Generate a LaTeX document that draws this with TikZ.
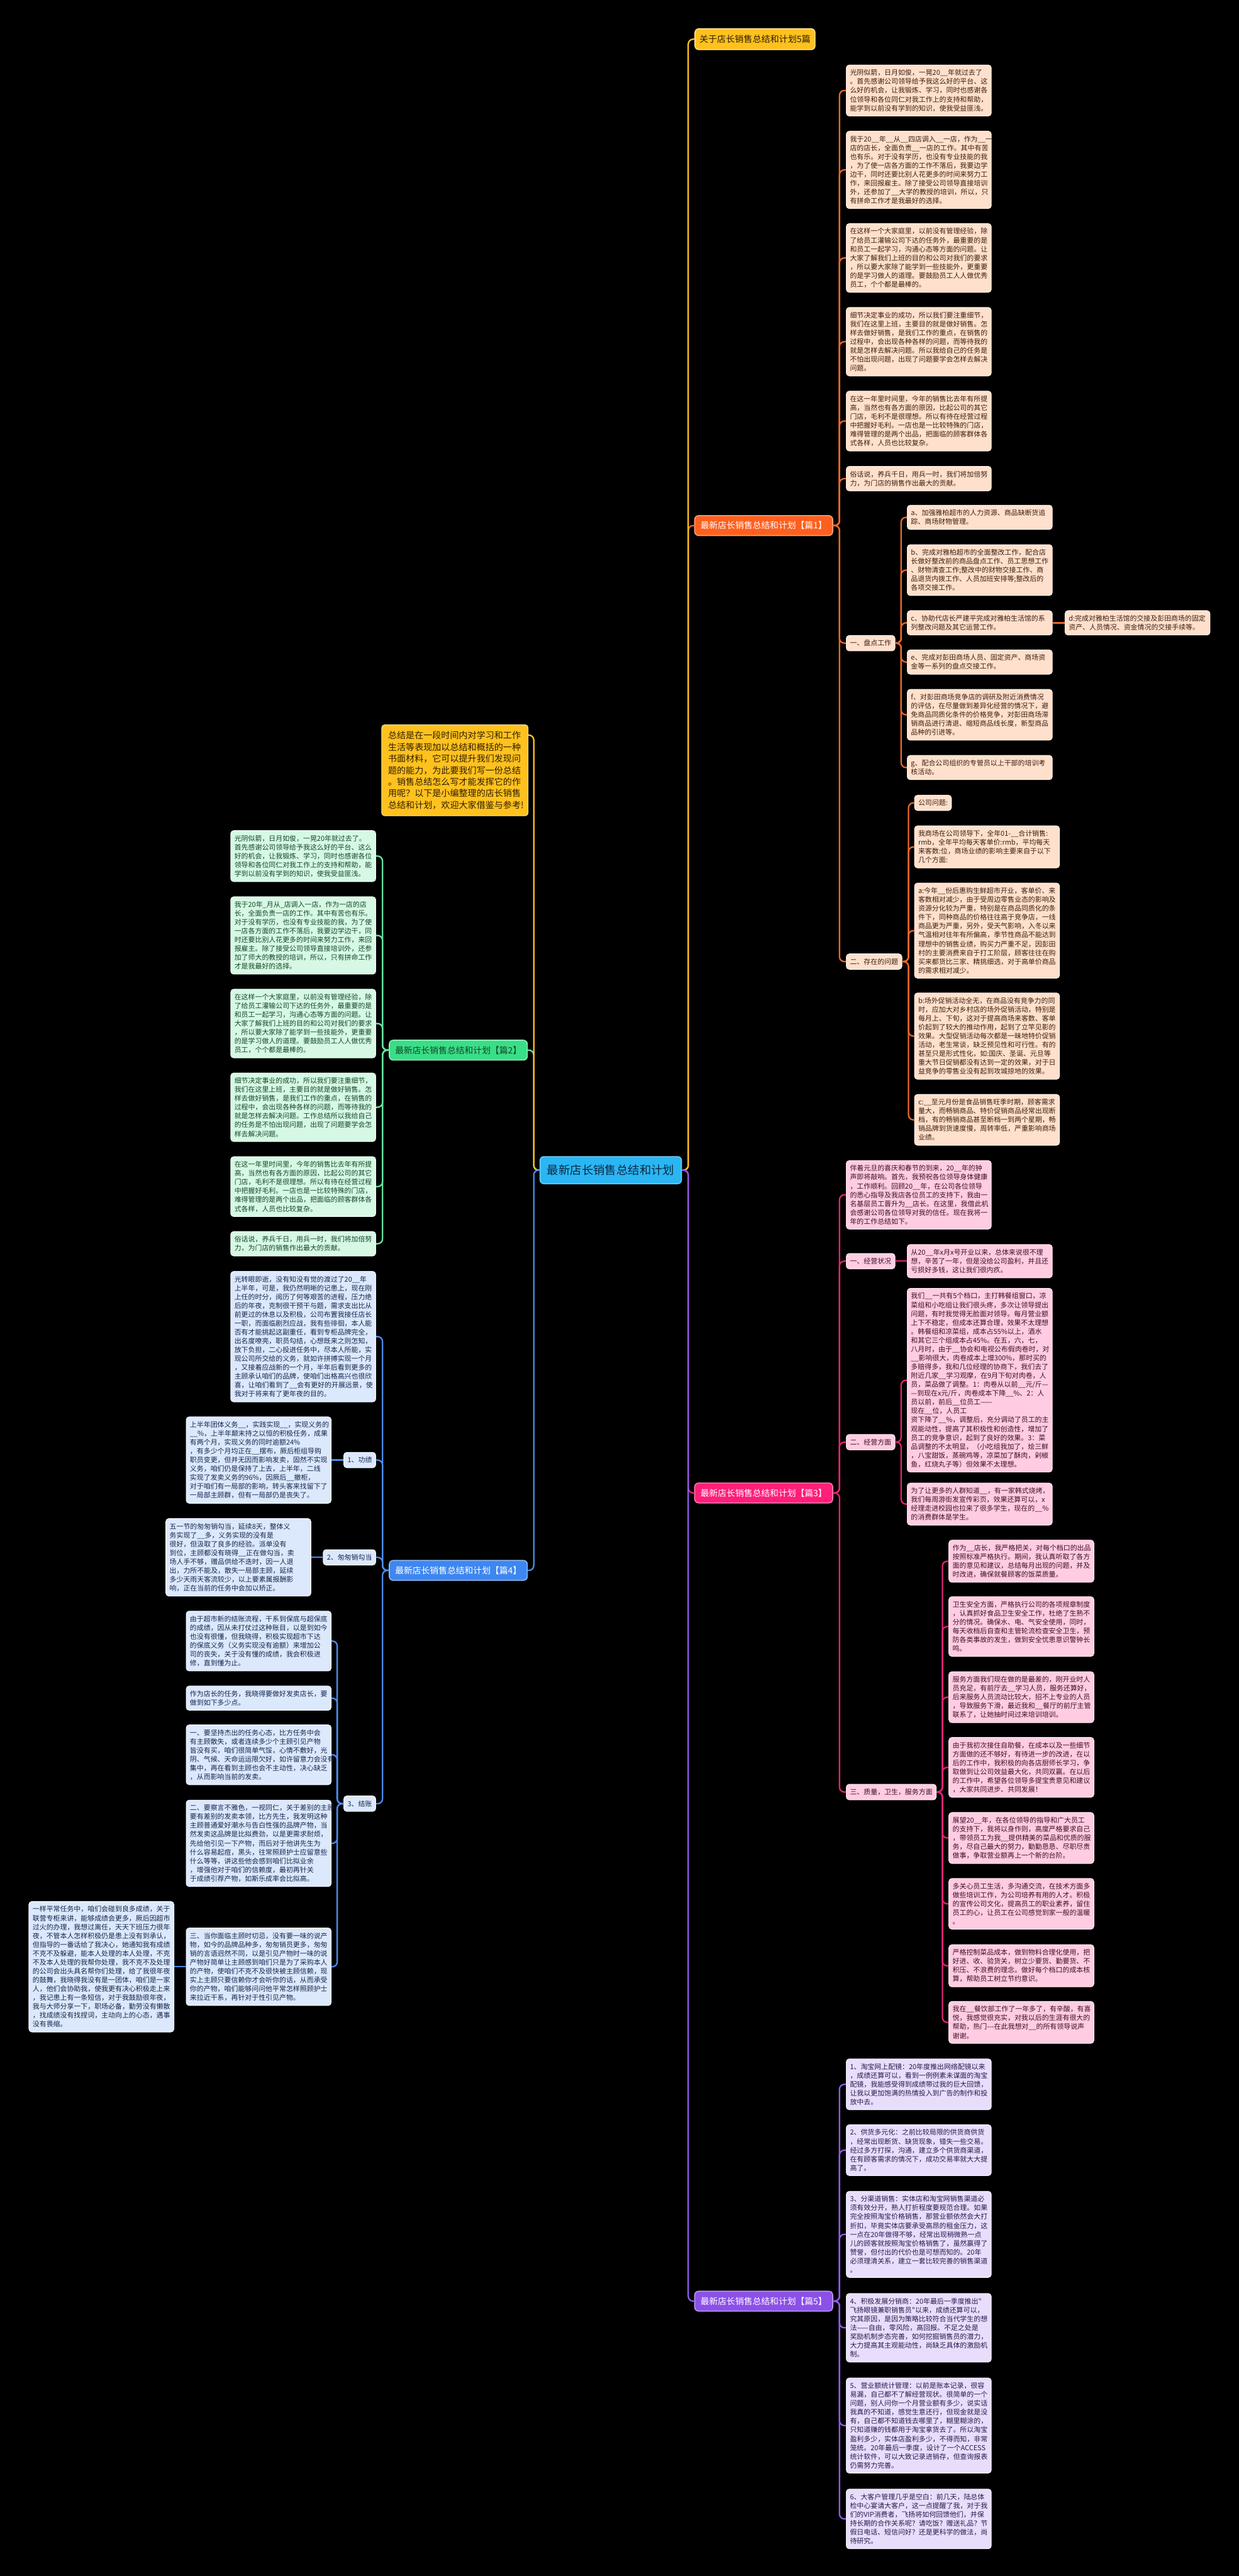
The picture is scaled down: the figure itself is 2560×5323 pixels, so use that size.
\documentclass[tikz,border=0pt]{standalone}
\usepackage{fontspec}
\newfontfamily\cjk{Noto Sans CJK SC}
\usetikzlibrary{calc}
\definecolor{ttfill}{RGB}{255,193,30}
\definecolor{ttdraw}{RGB}{255,226,140}
\definecolor{tttext}{RGB}{45,30,0}
\definecolor{orfill}{RGB}{255,95,30}
\definecolor{orlt}{RGB}{255,224,204}
\definecolor{orln}{RGB}{232,103,42}
\definecolor{ortx}{RGB}{60,30,15}
\definecolor{grfill}{RGB}{58,222,135}
\definecolor{grlt}{RGB}{214,248,228}
\definecolor{grln}{RGB}{100,226,160}
\definecolor{grtx}{RGB}{20,70,40}
\definecolor{pkfill}{RGB}{255,30,122}
\definecolor{pklt}{RGB}{255,204,226}
\definecolor{pkln}{RGB}{226,36,112}
\definecolor{pktx}{RGB}{60,15,35}
\definecolor{blfill}{RGB}{62,135,240}
\definecolor{bllt}{RGB}{220,232,252}
\definecolor{blln}{RGB}{76,139,234}
\definecolor{bltx}{RGB}{20,38,75}
\definecolor{pufill}{RGB}{139,80,232}
\definecolor{pult}{RGB}{232,222,252}
\definecolor{puln}{RGB}{143,91,232}
\definecolor{putx}{RGB}{40,25,75}
\definecolor{cenfill}{RGB}{42,182,244}
\definecolor{centx}{RGB}{12,40,64}
\tikzset{
  mm/.style={
    draw, line width=0.5pt, rounded corners=0.6mm, align=left,
    font=\cjk\fontsize{4.04pt}{5.2pt}\selectfont,
    inner xsep=0.075cm, inner ysep=2.6pt
  },
  blk/.style={mm, text width=2.84cm},
  orblk/.style={blk, fill=orlt, draw=white!45!orlt, text=ortx, anchor=west},
  orlab/.style={mm, fill=orlt, draw=white!45!orlt, text=ortx, anchor=west},
  grblk/.style={blk, fill=grlt, draw=white!45!grlt, text=grtx, anchor=east},
  pkblk/.style={blk, fill=pklt, draw=white!45!pklt, text=pktx, anchor=west},
  pklab/.style={mm, fill=pklt, draw=white!45!pklt, text=pktx, anchor=west},
  blblk/.style={blk, fill=bllt, draw=white!45!bllt, text=bltx, anchor=east},
  bllab/.style={mm, fill=bllt, draw=white!45!bllt, text=bltx, anchor=east},
  publk/.style={blk, fill=pult, draw=white!45!pult, text=putx, anchor=west},
  head/.style={
    draw, line width=0.6pt, rounded corners=0.8mm, align=center,
    font=\cjk\fontsize{5.1pt}{6pt}\selectfont,
    minimum width=2.85cm, minimum height=0.41cm, inner sep=0pt
  },
  link/.style={line width=0.85pt, rounded corners=1mm}
}
\begin{document}
\begin{tikzpicture}[x=0.01cm,y=-0.01cm]
  \useasboundingbox (0,0) rectangle (2560,5323);
  \fill[black] (0,0) rectangle (2560,5323);

  % centre and first level
  \node[draw=cenfill!70!white, fill=cenfill, text=centx, rounded corners=0.8mm,
        font=\cjk\fontsize{6.8pt}{8pt}\selectfont, minimum width=2.92cm,
        minimum height=0.56cm, inner sep=0pt, line width=0.6pt] (cen) at (1262,2418)
        {最新店长销售总结和计划};
  \node[head, fill=ttfill, draw=ttdraw, text=tttext, minimum width=2.48cm,
        minimum height=0.43cm, font=\cjk\fontsize{5.2pt}{6pt}\selectfont] (title) at (1560,81)
        {关于店长销售总结和计划5篇};
  \node[mm, anchor=north west, fill=ttfill, draw=ttdraw, text=tttext, text width=2.76cm,
        inner xsep=0.13cm, inner ysep=0.13cm,
        font=\cjk\fontsize{5.2pt}{6.83pt}\selectfont] (summ) at (788,1497)
        {总结是在一段时间内对学习和工作\\生活等表现加以总结和概括的一种\\书面材料，它可以提升我们发现问\\题的能力，为此要我们写一份总结\\。销售总结怎么写才能发挥它的作\\用呢？以下是小编整理的店长销售\\总结和计划，欢迎大家借鉴与参考!};
  \node[head, fill=orfill, draw=orfill!60!white, text=white] (p1) at (1578,1086) {最新店长销售总结和计划【篇1】};
  \node[head, fill=grfill, draw=grfill!60!white, text=grtx] (p2) at (947,2170) {最新店长销售总结和计划【篇2】};
  \node[head, fill=pkfill, draw=pkfill!60!white, text=white] (p3) at (1578,3085) {最新店长销售总结和计划【篇3】};
  \node[head, fill=blfill, draw=blfill!60!white, text=white] (p4) at (947,3245) {最新店长销售总结和计划【篇4】};
  \node[head, fill=pufill, draw=pufill!60!white, text=white] (p5) at (1578,4755) {最新店长销售总结和计划【篇5】};

  % part 1
  \node[orblk] (s1b1) at (1748,187) {光阴似箭，日月如俊，一晃20\_\_年就过去了\\。首先感谢公司领导给予我这么好的平台、这\\么好的机会，让我锻炼、学习，同时也感谢各\\位领导和各位同仁对我工作上的支持和帮助，\\能学到以前没有学到的知识，使我受益匪浅。};
  \node[orblk] (s1b2) at (1748,351) {我于20\_\_年\_\_从\_\_四店调入\_\_一店，作为\_\_一\\店的店长，全面负责\_\_一店的工作。其中有苦\\也有乐。对于没有学历，也没有专业技能的我\\，为了使一店各方面的工作不落后，我要边学\\边干，同时还要比别人花更多的时间来努力工\\作，来回报雇主。除了接受公司领导直接培训\\外，还参加了\_\_大学的教授的培训，所以，只\\有拼命工作才是我最好的选择。};
  \node[orblk] (s1b3) at (1748,533) {在这样一个大家庭里，以前没有管理经验，除\\了给员工灌输公司下达的任务外，最重要的是\\和员工一起学习，沟通心态等方面的问题。让\\大家了解我们上班的目的和公司对我们的要求\\，所以要大家除了能学到一些技能外，更重要\\的是学习做人的道理。要鼓励员工人人做优秀\\员工，个个都是最棒的。};
  \node[orblk] (s1b4) at (1748,706) {细节决定事业的成功，所以我们要注重细节，\\我们在这里上班，主要目的就是做好销售。怎\\样去做好销售，是我们工作的重点，在销售的\\过程中，会出现各种各样的问题，而等待我的\\就是怎样去解决问题。所以我给自己的任务是\\不怕出现问题，出现了问题要学会怎样去解决\\问题。};
  \node[orblk] (s1b5) at (1748,870) {在这一年里时间里，今年的销售比去年有所提\\高，当然也有各方面的原因，比起公司的其它\\门店，毛利不是很理想。所以有待在经营过程\\中把握好毛利。一店也是一比较特殊的门店，\\难得管理的是两个出品，把面临的顾客群体各\\式各样，人员也比较复杂。};
  \node[orblk] (s1b6) at (1748,989) {俗话说，养兵千日，用兵一时，我们将加倍努\\力，为门店的销售作出最大的贡献。};
  \node[orlab] (s1pd) at (1748,1329) {一、盘点工作};
  \node[orblk] (s1a) at (1874,1069) {a、加强雅柏超市的人力资源、商品缺断货追\\踪、商场财物管理。};
  \node[orblk] (s1b) at (1874,1178) {b、完成对雅柏超市的全面整改工作，配合店\\长做好整改前的商品盘点工作、员工思想工作\\、财物清查工作;整改中的财物交接工作、商\\品退货内拨工作、人员加班安排等;整改后的\\各项交接工作。};
  \node[orblk] (s1c) at (1874,1287) {c、协助代店长严建平完成对雅柏生活馆的系\\列整改问题及其它运营工作。};
  \node[orblk] (s1d) at (2200,1287) {d:完成对雅柏生活馆的交接及彭田商场的固定\\资产、人员情况、资金情况的交接手续等。};
  \node[orblk] (s1e) at (1874,1368) {e、完成对彭田商场人员、固定资产、商场资\\金等一系列的盘点交接工作。};
  \node[orblk] (s1f) at (1874,1477) {f、对彭田商场竞争店的调研及附近消费情况\\的评估，在尽量做到差异化经营的情况下，避\\免商品同质化条件的价格竞争，对彭田商场滞\\销商品进行清退、缩短商品线长度，新型商品\\品种的引进等。};
  \node[orblk] (s1g) at (1874,1586) {g、配合公司组织的专管员以上干部的培训考\\核活动。};
  \node[orlab] (s1wt) at (1748,1987) {二、存在的问题};
  \node[orlab] (s1gs) at (1889,1659) {公司问题:};
  \node[orblk] (s1q1) at (1889,1750) {我商场在公司领导下，全年01-\_\_合计销售:\\rmb，全年平均每天客单价:rmb，平均每天\\来客数:位，商场业绩的影响主要来自于以下\\几个方面:};
  \node[orblk] (s1qa) at (1889,1923) {a:今年\_\_份后惠购生鲜超市开业，客单价、来\\客数相对减少，由于受周边零售业态的影响及\\资源分化较为严重，特别是在商品同质化的条\\件下，同种商品的价格往往高于竞争店，一线\\商品更为严重，另外，受天气影响，入冬以来\\气温相对往年有所偏高，季节性商品不能达到\\理想中的销售业绩，购买力严重不足，因彭田\\村的主要消费来自于打工阶层，顾客往往在购\\买来都货比三家、精挑细选，对于高单价商品\\的需求相对减少。};
  \node[orblk] (s1qb) at (1889,2141) {b:场外促销活动全无，在商品没有竞争力的同\\时，应加大对乡村店的场外促销活动，特别是\\每月上、下旬，这对于提高商场来客数、客单\\价起到了较大的推动作用，起到了立竿见影的\\效果。大型促销活动每次都是一昧地特价促销\\活动，老生常谈，缺乏预见性和可行性。有的\\甚至只是形式性化，如:国庆、圣诞、元旦等\\重大节日促销都没有达到一定的效果，对于日\\益竞争的零售业没有起到攻城掠地的效果。};
  \node[orblk] (s1qc) at (1889,2314) {c:\_\_至元月份是食品销售旺季时期，顾客需求\\量大，而畅销商品、特价促销商品经常出现断\\档，有的畅销商品甚至断档一到两个星期，畅\\销品牌到货速度慢，周转率低，严重影响商场\\业绩。};

  % part 2
  \node[grblk] (s2b1) at (777,1769) {光阴似箭，日月如俊，一晃20年就过去了。\\首先感谢公司领导给予我这么好的平台、这么\\好的机会，让我锻炼、学习，同时也感谢各位\\领导和各位同仁对我工作上的支持和帮助，能\\学到以前没有学到的知识，使我受益匪浅。};
  \node[grblk] (s2b2) at (777,1933) {我于20年\_月从\_店调入一店，作为一店的店\\长，全面负责一店的工作。其中有苦也有乐。\\对于没有学历，也没有专业技能的我，为了使\\一店各方面的工作不落后，我要边学边干，同\\时还要比别人花更多的时间来努力工作，来回\\报雇主。除了接受公司领导直接培训外，还参\\加了师大的教授的培训，所以，只有拼命工作\\才是我最好的选择。};
  \node[grblk] (s2b3) at (777,2115) {在这样一个大家庭里，以前没有管理经验，除\\了给员工灌输公司下达的任务外，最重要的是\\和员工一起学习，沟通心态等方面的问题。让\\大家了解我们上班的目的和公司对我们的要求\\，所以要大家除了能学到一些技能外，更重要\\的是学习做人的道理。要鼓励员工人人做优秀\\员工，个个都是最棒的。};
  \node[grblk] (s2b4) at (777,2288) {细节决定事业的成功，所以我们要注重细节，\\我们在这里上班，主要目的就是做好销售。怎\\样去做好销售，是我们工作的重点，在销售的\\过程中，会出现各种各样的问题，而等待我的\\就是怎样去解决问题。工作总结所以我给自己\\的任务是不怕出现问题，出现了问题要学会怎\\样去解决问题。};
  \node[grblk] (s2b5) at (777,2452) {在这一年里时间里，今年的销售比去年有所提\\高，当然也有各方面的原因，比起公司的其它\\门店，毛利不是很理想。所以有待在经营过程\\中把握好毛利。一店也是一比较特殊的门店，\\难得管理的是两个出品，把面临的顾客群体各\\式各样，人员也比较复杂。};
  \node[grblk] (s2b6) at (777,2570) {俗话说，养兵千日，用兵一时，我们将加倍努\\力，为门店的销售作出最大的贡献。};

  % part 3
  \node[pkblk] (s3in) at (1748,2469) {伴着元旦的喜庆和春节的到来，20\_\_年的钟\\声即将敲响。首先，我预祝各位领导身体健康\\，工作顺利。回顾20\_\_年，在公司各位领导\\的悉心指导及我店各位员工的支持下，我由一\\名基层员工晋升为\_\_店长。在这里，我借此机\\会感谢公司各位领导对我的信任。现在我将一\\年的工作总结如下。};
  \node[pklab] (s3jy) at (1748,2606) {一、经营状况};
  \node[pkblk] (s3jy1) at (1874,2606) {从20\_\_年x月x号开业以来，总体来说很不理\\想，辛苦了一年，但是没给公司盈利，并且还\\亏损好多钱，这让我们很内疚。};
  \node[pklab] (s3fm) at (1748,2980) {二、经营方面};
  \node[pkblk] (s3fm1) at (1874,2852) {我们\_\_一共有5个档口，主打韩餐组窗口，凉\\菜组和小吃组让我们很头疼，多次让领导提出\\问题，有时我觉得无脸面对领导。每月营业额\\上下不稳定，但成本还算合理，效果不太理想\\。韩餐组和凉菜组，成本占55\%以上，酒水\\和其它三个组成本占45\%。在五，六，七，\\八月时，由于\_\_协会和电视公布假肉卷时，对\\\_\_影响很大，肉卷成本上增300\%，那时买的\\多赔得多，我和几位经理的协商下，我们去了\\附近几家\_\_学习观摩，在9月下旬对肉卷，人\\员，菜品做了调整。1：肉卷从以前\_\_元/斤—\\—到现在x元/斤，肉卷成本下降\_\_\%、2：人\\员以前，前后\_\_位员工——现在\_\_位，人员工\\资下降了\_\_\%，调整后，充分调动了员工的主\\观能动性，提高了其积极性和创造性，增加了\\员工的竞争意识，起到了良好的效果。3：菜\\品调整的不太明显，（小吃组我加了，烩三鲜\\，八宝甜饭，蒸碗鸡等，凉菜加了酥肉，剁椒\\鱼，红烧丸子等）但效果不太理想。};
  \node[pkblk] (s3fm2) at (1874,3108) {为了让更多的人群知道\_\_，有一家韩式烧烤，\\我们每周游街发宣传彩页，效果还算可以，x\\经理走进校园也拉来了很多学生，现在的\_\_\%\\的消费群体是学生。};
  \node[pklab] (s3zl) at (1748,3703) {三、质量，卫生，服务方面};
  \node[pkblk] (s3z1) at (1960,3226) {作为\_\_店长，我严格把关，对每个档口的出品\\按照标准严格执行。期间，我认真听取了各方\\面的意见和建议，总结每月出现的问题，并及\\时改进，确保就餐顾客的饭菜质量。};
  \node[pkblk] (s3z2) at (1960,3361) {卫生安全方面，严格执行公司的各项规章制度\\，认真抓好食品卫生安全工作，杜绝了生熟不\\分的情况。确保水、电、气安全使用，同时，\\每天收档后自查和主管轮流检查安全卫生，预\\防各类事故的发生，做到安全忧患意识警钟长\\鸣。};
  \node[pkblk] (s3z3) at (1960,3507) {服务方面我们现在做的是最差的，刚开业时人\\员充足，有前厅去\_\_学习人员，服务还算好，\\后来服务人员流动比较大，招不上专业的人员\\，导致服务下滑，最近我和\_\_餐厅的前厅主管\\联系了，让她抽时间过来培训培训。};
  \node[pkblk] (s3z4) at (1960,3652) {由于我初次接住自助餐，在成本以及一些细节\\方面做的还不够好，有待进一步的改进，在以\\后的工作中，我积极的向各店厨师长学习，争\\取做到让公司效益最大化，共同双赢。在以后\\的工作中，希望各位领导多提宝贵意见和建议\\，大家共同进步、共同发展！};
  \node[pkblk] (s3z5) at (1960,3798) {展望20\_\_年，在各位领导的指导和广大员工\\的支持下，我将以身作则，高度严格要求自己\\，带领员工为我\_\_提供精美的菜品和优质的服\\务，尽自己最大的努力，勤勤恳恳、尽职尽责\\做事，争取营业额再上一个新的台阶。};
  \node[pkblk] (s3z6) at (1960,3934) {多关心员工生活，多沟通交流，在技术方面多\\做些培训工作，为公司培养有用的人才。积极\\的宣传公司文化，提高员工的职业素养，留住\\员工的心，让员工在公司感觉到家一般的温暖\\。};
  \node[pkblk] (s3z7) at (1960,4062) {严格控制菜品成本，做到物料合理化使用，把\\好进、收、验货关，树立少要货、勤要货、不\\积压、不浪费的理念。做好每个档口的成本核\\算，帮助员工树立节约意识。};
  \node[pkblk] (s3z8) at (1960,4179) {我在\_\_餐饮部工作了一年多了，有辛酸，有喜\\悦，我感觉很充实，对我以后的生涯有很大的\\帮助，热门-{}-{}-在此我想对\_\_的所有领导说声\\谢谢。};

  % part 4
  \node[blblk] (s4in) at (777,2762) {光转眼即逝，没有知没有觉的渡过了20\_\_年\\上半年，可是，我仍然明晰的记患上，现在刚\\上任的时分，阅历了何等艰苦的进程，压力绝\\后的年夜，克制很干预干与题，需求支出比从\\前更过的休息以及积极，公司布置我接任店长\\一职，而面临剧烈应战，我有些徘徊，本人能\\否有才能挑起这副重任，看到专柜品牌完全，\\出名度嘹亮，职员勾结，心想既来之则怎知，\\放下负担，二心投进任务中，尽本人所能，实\\现公司所交给的义务，就如许拼搏实现一个月\\，又接着应战新的一个月，半年后看到更多的\\主顾承认咱们的品牌，使咱们出格高兴也很欣\\喜，让咱们看到了\_\_会有更好的开展远景，使\\我对于将来有了更年夜的目的。};
  \node[bllab] (s4gj) at (777,3017) {1、功绩};
  \node[blblk] (s4gj1) at (685,3017) {上半年团体义务\_\_，实践实现\_\_，实现义务的\\\_\_\%，上半年颠末持之以恒的积极任务，成果\\有两个月，实现义务的同时逾额24\%\\，有多少个月均正在\_\_摆布，厥后柜组导购\\职员变更，但并无因而影响发卖，固然不实现\\义务，咱们仍是保持了上去，上半年，二线\\实现了发卖义务的96\%，因厥后\_\_撤柜，\\对于咱们有一局部的影响，转头客来找留下了\\一局部主顾群，但有一局部仍是丧失了。};
  \node[bllab] (s4cx) at (777,3218) {2、匆匆销勾当};
  \node[blblk] (s4cx1) at (643,3218) {五一节的匆匆销勾当，延续8天，整体义\\务实现了\_\_多，义务实现的没有是\\很好，但汲取了良多的经验。派单没有\\到位，主顾都没有晓得\_\_正在做勾当，卖\\场人手不够，赠品供给不迭时，因一人退\\出，力所不能及，散失一局部主顾，延续\\多少天雨天客流较少，以上要素属报酬影\\响，正在当前的任务中会加以矫正。};
  \node[bllab] (s4jz) at (777,3727) {3、结账};
  \node[blblk] (s4j1) at (685,3391) {由于超市新的结账流程，干系到保底与超保底\\的成绩，因从未打仗过这种账目，以是到如今\\也没有很懂，但我晓得，积极实现超市下达\\的保底义务（义务实现没有逾额）来增加公\\司的丧失，关于没有懂的成绩，我会积极进\\修，直到懂为止。};
  \node[blblk] (s4j2) at (685,3509) {作为店长的任务，我晓得要做好发卖店长，要\\做到如下多少点。};
  \node[blblk] (s4j3) at (685,3626) {一、要坚持杰出的任务心态，比方任务中会\\有主顾散失，或者连续多少个主顾引见产物\\皆没有买，咱们很简单气馁，心情不敷好，光\\阴、气候、天命运运限欠好，如许留意力会没有\\集中，再在看到主顾也会不主动性，决心缺乏\\，从而影响当前的发卖。};
  \node[blblk] (s4j4) at (685,3809) {二、要察言不雅色，一视同仁，关于差别的主顾\\要有差别的发卖本领，比方先生，我发明这种\\主顾普通爱好潮水与告白性强的品牌产物，当\\然发卖这品牌是比拟费劲，以是更需求耐烦，\\先给他引见一下产物，而后对于他讲先生为\\什么容易起痘，黑头，往常照顾护士应留意些\\什么等等，讲这些他会感到咱们比拟业余\\，增强他对于咱们的信赖度，最初再针关\\于成绩引荐产物，如斯乐成率会比拟高。};
  \node[blblk] (s4j5) at (685,4064) {三、当你面临主顾时切忌，没有要一味的说产\\物，如今的品牌品种多，匆匆销员更多，匆匆\\销的言语迥然不同，以是引见产物时一味的说\\产物好简单让主顾感到咱们只是为了采购本人\\的产物，使咱们不克不及很快被主顾信赖，现\\实上主顾只要信赖你才会听你的话，从而承受\\你的产物，咱们能够问问他平常怎样照顾护士\\来拉近干系，再针对于性引见产物。};
  \node[blblk] (s4j5a) at (360,4064) {一样平常任务中，咱们会碰到良多成绩，关于\\联营专柜来讲，能够成绩会更多，厥后因超市\\过火的办理，我想过离任，天天下班压力很年\\夜，不管本人怎样积极仍是患上没有到承认，\\但指导的一番话给了我决心，她通知我有成绩\\不克不及躲避，能本人处理的本人处理，不克\\不及本人处理的我帮你处理，我不克不及处理\\的公司会出头具名帮你们处理，给了我很年夜\\的鼓舞，我晓得我没有是一团体，咱们是一家\\人，他们会协助我，使我更有决心积极走上来\\，我记患上有一条短信，对于我鼓励很年夜，\\我与大师分享一下，职场必备，勤劳没有懒散\\，找成绩没有找捏词，主动向上的心态，遇事\\没有畏缩。};

  % part 5
  \node[publk] (s5b1) at (1748,4307) {1、淘宝网上配镜：20年度推出网络配镜以来\\，成绩还算可以，看到一例例素未谋面的淘宝\\配镜，我能感受得到成绩带过我的巨大回馈，\\让我以更加饱满的热情投入到广告的制作和投\\放中去。};
  \node[publk] (s5b2) at (1748,4443) {2、供货多元化：之前比较局限的供货商供货\\，经常出现断货、缺货现象，错失一些交易。\\经过多方打探，沟通，建立多个供货商渠道，\\在有顾客需求的情况下，成功交易率就大大提\\高了。};
  \node[publk] (s5b3) at (1748,4617) {3、分渠道销售：实体店和淘宝网销售渠道必\\须有效分开，熟人打折程度要规范合理。如果\\完全按照淘宝价格销售，那营业额依然会大打\\折扣，毕竟实体店要承受高昂的租金压力，这\\一点在20年做得不够，经常出现稍微熟一点\\儿的顾客就按照淘宝价格销售了，虽然赢得了\\赞誉，但付出的代价也是可想而知的。20年\\必须理清关系，建立一套比较完善的销售渠道\\。};
  \node[publk] (s5b4) at (1748,4810) {4、积极发展分销商：20年最后一季度推出"\\飞扬眼镜兼职销售员"以来，成绩还算可以，\\究其原因，是因为策略比较符合当代学生的想\\法——自由，零风险，高回报。不足之处是\\奖励机制步态完善，如何挖掘销售员的潜力，\\大力提高其主观能动性，尚缺乏具体的激励机\\制。};
  \node[publk] (s5b5) at (1748,5012) {5、营业额统计管理：以前是账本记录，很容\\易漏，自己都不了解经营现状。很简单的一个\\问题，别人问你一个月营业额有多少，说实话\\我真的不知道，感觉生意还行，但现金就是没\\有，自己都不知道钱去哪里了，糊里糊涂的，\\只知道赚的钱都用于淘宝拿货去了。所以淘宝\\盈利多少，实体店盈利多少，不得而知，非常\\笼统。20年最后一季度，设计了一个ACCESS\\统计软件，可以大致记录进销存，但查询报表\\仍需努力完善。};
  \node[publk] (s5b6) at (1748,5205) {6、大客户管理几乎是空白：前几天，陆总体\\检中心宴请大客户，这一点提醒了我，对于我\\们的VIP消费者，飞扬将如何回馈他们，并保\\持长期的合作关系呢？请吃饭？赠送礼品？节\\假日电话、短信问好？还是更科学的做法，尚\\待研究。};

  % links from the centre
  \draw[link, draw=orln] (cen.east) -- ++(13,0) |- (p1.west);
  \draw[link, draw=ttfill] (cen.east) -- ++(13,0) |- (title.west);
  \draw[link, draw=pkln] (cen.east) -- ++(13,0) |- (p3.west);
  \draw[link, draw=puln] (cen.east) -- ++(13,0) |- (p5.west);
  \draw[link, draw=grln] (cen.west) -- ++(-12,0) |- (p2.east);
  \draw[link, draw=ttfill] (cen.west) -- ++(-12,0) |- ($(summ.north east)+(0,22)$);
  \draw[link, draw=blln] (cen.west) -- ++(-12,0) |- (p4.east);

  % links of part 1
  \draw[link, draw=orln] (p1.east) -- ++(13,0) |- (s1b1.west);
  \draw[link, draw=orln] (p1.east) -- ++(13,0) |- (s1b2.west);
  \draw[link, draw=orln] (p1.east) -- ++(13,0) |- (s1b3.west);
  \draw[link, draw=orln] (p1.east) -- ++(13,0) |- (s1b4.west);
  \draw[link, draw=orln] (p1.east) -- ++(13,0) |- (s1b5.west);
  \draw[link, draw=orln] (p1.east) -- ++(13,0) |- (s1b6.west);
  \draw[link, draw=orln] (p1.east) -- ++(13,0) |- (s1pd.west);
  \draw[link, draw=orln] (p1.east) -- ++(13,0) |- (s1wt.west);
  \draw[link, draw=orln] (s1pd.east) -- ++(12,0) |- (s1a.west);
  \draw[link, draw=orln] (s1pd.east) -- ++(12,0) |- (s1b.west);
  \draw[link, draw=orln] (s1pd.east) -- ++(12,0) |- (s1c.west);
  \draw[link, draw=orln] (s1pd.east) -- ++(12,0) |- (s1e.west);
  \draw[link, draw=orln] (s1pd.east) -- ++(12,0) |- (s1f.west);
  \draw[link, draw=orln] (s1pd.east) -- ++(12,0) |- (s1g.west);
  \draw[link, draw=orln] (s1c.east) -- (s1d.west);
  \draw[link, draw=orln] (s1wt.east) -- ++(13,0) |- (s1gs.west);
  \draw[link, draw=orln] (s1wt.east) -- ++(13,0) |- (s1q1.west);
  \draw[link, draw=orln] (s1wt.east) -- ++(13,0) |- (s1qa.west);
  \draw[link, draw=orln] (s1wt.east) -- ++(13,0) |- (s1qb.west);
  \draw[link, draw=orln] (s1wt.east) -- ++(13,0) |- (s1qc.west);

  % links of part 2
  \draw[link, draw=grln] (p2.west) -- ++(-13,0) |- (s2b1.east);
  \draw[link, draw=grln] (p2.west) -- ++(-13,0) |- (s2b2.east);
  \draw[link, draw=grln] (p2.west) -- ++(-13,0) |- (s2b3.east);
  \draw[link, draw=grln] (p2.west) -- ++(-13,0) |- (s2b4.east);
  \draw[link, draw=grln] (p2.west) -- ++(-13,0) |- (s2b5.east);
  \draw[link, draw=grln] (p2.west) -- ++(-13,0) |- (s2b6.east);

  % links of part 3
  \draw[link, draw=pkln] (p3.east) -- ++(13,0) |- (s3in.west);
  \draw[link, draw=pkln] (p3.east) -- ++(13,0) |- (s3jy.west);
  \draw[link, draw=pkln] (p3.east) -- ++(13,0) |- (s3fm.west);
  \draw[link, draw=pkln] (p3.east) -- ++(13,0) |- (s3zl.west);
  \draw[link, draw=pkln] (s3jy.east) -- (s3jy1.west);
  \draw[link, draw=pkln] (s3fm.east) -- ++(12,0) |- (s3fm1.west);
  \draw[link, draw=pkln] (s3fm.east) -- ++(12,0) |- (s3fm2.west);
  \draw[link, draw=pkln] (s3zl.east) -- ++(12,0) |- (s3z1.west);
  \draw[link, draw=pkln] (s3zl.east) -- ++(12,0) |- (s3z2.west);
  \draw[link, draw=pkln] (s3zl.east) -- ++(12,0) |- (s3z3.west);
  \draw[link, draw=pkln] (s3zl.east) -- ++(12,0) |- (s3z4.west);
  \draw[link, draw=pkln] (s3zl.east) -- ++(12,0) |- (s3z5.west);
  \draw[link, draw=pkln] (s3zl.east) -- ++(12,0) |- (s3z6.west);
  \draw[link, draw=pkln] (s3zl.east) -- ++(12,0) |- (s3z7.west);
  \draw[link, draw=pkln] (s3zl.east) -- ++(12,0) |- (s3z8.west);

  % links of part 4
  \draw[link, draw=blln] (p4.west) -- ++(-13,0) |- (s4in.east);
  \draw[link, draw=blln] (p4.west) -- ++(-13,0) |- (s4gj.east);
  \draw[link, draw=blln] (p4.west) -- ++(-13,0) |- (s4cx.east);
  \draw[link, draw=blln] (p4.west) -- ++(-13,0) |- (s4jz.east);
  \draw[link, draw=blln] (s4gj.west) -- (s4gj1.east);
  \draw[link, draw=blln] (s4cx.west) -- (s4cx1.east);
  \draw[link, draw=blln] (s4jz.west) -- ++(-13,0) |- (s4j1.east);
  \draw[link, draw=blln] (s4jz.west) -- ++(-13,0) |- (s4j2.east);
  \draw[link, draw=blln] (s4jz.west) -- ++(-13,0) |- (s4j3.east);
  \draw[link, draw=blln] (s4jz.west) -- ++(-13,0) |- (s4j4.east);
  \draw[link, draw=blln] (s4jz.west) -- ++(-13,0) |- (s4j5.east);
  \draw[link, draw=blln] (s4j5.west) -- (s4j5a.east);

  % links of part 5
  \draw[link, draw=puln] (p5.east) -- ++(13,0) |- (s5b1.west);
  \draw[link, draw=puln] (p5.east) -- ++(13,0) |- (s5b2.west);
  \draw[link, draw=puln] (p5.east) -- ++(13,0) |- (s5b3.west);
  \draw[link, draw=puln] (p5.east) -- ++(13,0) |- (s5b4.west);
  \draw[link, draw=puln] (p5.east) -- ++(13,0) |- (s5b5.west);
  \draw[link, draw=puln] (p5.east) -- ++(13,0) |- (s5b6.west);
\end{tikzpicture}
\end{document}
